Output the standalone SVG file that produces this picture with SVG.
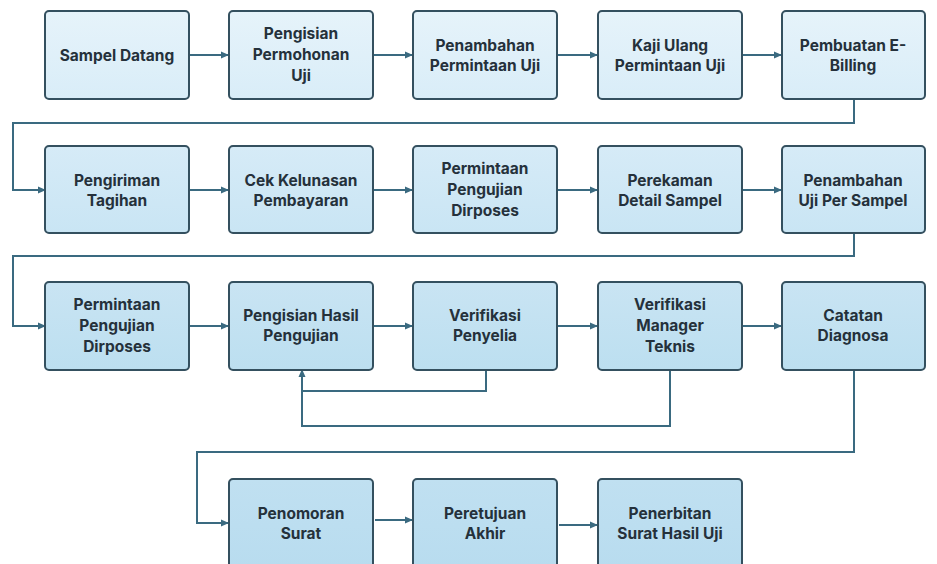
<svg xmlns="http://www.w3.org/2000/svg" width="937" height="564" viewBox="0 0 937 564">
<defs>
<linearGradient id="g1" x1="0" y1="0" x2="0" y2="1"><stop offset="0" stop-color="#e6f3fa"/><stop offset="1" stop-color="#d9edf8"/></linearGradient>
<linearGradient id="g2" x1="0" y1="0" x2="0" y2="1"><stop offset="0" stop-color="#d6ebf7"/><stop offset="1" stop-color="#c9e5f4"/></linearGradient>
<linearGradient id="g3" x1="0" y1="0" x2="0" y2="1"><stop offset="0" stop-color="#c9e4f3"/><stop offset="1" stop-color="#bcdff0"/></linearGradient>
<linearGradient id="g4" x1="0" y1="0" x2="0" y2="1"><stop offset="0" stop-color="#c0e0f1"/><stop offset="1" stop-color="#b8dcef"/></linearGradient>
<marker id="arr" markerWidth="8" markerHeight="8" refX="7" refY="4" orient="auto" markerUnits="userSpaceOnUse">
<path d="M0,0.5 L8,4 L0,7.5 Z" fill="#3a6a80"/>
</marker>
</defs>
<style>
.box{stroke:#34505f;stroke-width:2}
.r1{fill:url(#g1)}.r2{fill:url(#g2)}.r3{fill:url(#g3)}.r4{fill:url(#g4)}
text{font-family:Inter,"Liberation Sans",sans-serif;font-weight:700;font-size:15.5px;fill:#25313b;text-anchor:middle}
.c{fill:none;stroke:#3a6a80;stroke-width:2}
</style>
<rect width="937" height="564" fill="#ffffff"/>
<g id="connectors">
<path class="c" d="M189,55 H228" marker-end="url(#arr)"/>
<path class="c" d="M373,55 H412" marker-end="url(#arr)"/>
<path class="c" d="M557,55 H597" marker-end="url(#arr)"/>
<path class="c" d="M742,55 H781" marker-end="url(#arr)"/>
<path class="c" d="M854,99 V123 H13 V190 H45" marker-end="url(#arr)"/>
<path class="c" d="M189,190 H228" marker-end="url(#arr)"/>
<path class="c" d="M373,190 H412" marker-end="url(#arr)"/>
<path class="c" d="M557,190 H597" marker-end="url(#arr)"/>
<path class="c" d="M742,190 H781" marker-end="url(#arr)"/>
<path class="c" d="M854,233 V256 H13 V326 H45" marker-end="url(#arr)"/>
<path class="c" d="M189,326 H228" marker-end="url(#arr)"/>
<path class="c" d="M373,326 H412" marker-end="url(#arr)"/>
<path class="c" d="M557,326 H597" marker-end="url(#arr)"/>
<path class="c" d="M742,326 H781" marker-end="url(#arr)"/>
<path class="c" d="M486,370 V391 H302 V370" marker-end="url(#arr)"/>
<path class="c" d="M670,370 V426 H302 V391"/>
<path class="c" d="M854,370 V452 H197 V523 H228" marker-end="url(#arr)"/>
<path class="c" d="M375,520 H412" marker-end="url(#arr)"/>
<path class="c" d="M559,525 H597" marker-end="url(#arr)"/>
</g>
<g id="n1"><rect class="box r1" x="45" y="11" width="144" height="88" rx="4"/><text x="117" y="61">Sampel Datang</text></g>
<g id="n2"><rect class="box r1" x="229" y="11" width="144" height="88" rx="4"/><text x="301" y="39">Pengisian</text><text x="301" y="60">Permohonan</text><text x="301" y="81">Uji</text></g>
<g id="n3"><rect class="box r1" x="413" y="11" width="144" height="88" rx="4"/><text x="485" y="51">Penambahan</text><text x="485" y="71">Permintaan Uji</text></g>
<g id="n4"><rect class="box r1" x="598" y="11" width="144" height="88" rx="4"/><text x="670" y="51">Kaji Ulang</text><text x="670" y="71">Permintaan Uji</text></g>
<g id="n5"><rect class="box r1" x="782" y="11" width="143" height="88" rx="4"/><text x="853" y="51">Pembuatan E-</text><text x="853" y="71">Billing</text></g>
<g id="n6"><rect class="box r2" x="45" y="146" width="144" height="87" rx="4"/><text x="117" y="186">Pengiriman</text><text x="117" y="206">Tagihan</text></g>
<g id="n7"><rect class="box r2" x="229" y="146" width="144" height="87" rx="4"/><text x="301" y="186">Cek Kelunasan</text><text x="301" y="206">Pembayaran</text></g>
<g id="n8"><rect class="box r2" x="413" y="146" width="144" height="87" rx="4"/><text x="485" y="174">Permintaan</text><text x="485" y="195">Pengujian</text><text x="485" y="216">Dirposes</text></g>
<g id="n9"><rect class="box r2" x="598" y="146" width="144" height="87" rx="4"/><text x="670" y="186">Perekaman</text><text x="670" y="206">Detail Sampel</text></g>
<g id="n10"><rect class="box r2" x="782" y="146" width="143" height="87" rx="4"/><text x="853" y="186">Penambahan</text><text x="853" y="206">Uji Per Sampel</text></g>
<g id="n11"><rect class="box r3" x="45" y="282" width="144" height="88" rx="4"/><text x="117" y="310">Permintaan</text><text x="117" y="331">Pengujian</text><text x="117" y="352">Dirposes</text></g>
<g id="n12"><rect class="box r3" x="229" y="282" width="144" height="88" rx="4"/><text x="301" y="321">Pengisian Hasil</text><text x="301" y="341">Pengujian</text></g>
<g id="n13"><rect class="box r3" x="413" y="282" width="144" height="88" rx="4"/><text x="485" y="321">Verifikasi</text><text x="485" y="341">Penyelia</text></g>
<g id="n14"><rect class="box r3" x="598" y="282" width="144" height="88" rx="4"/><text x="670" y="310">Verifikasi</text><text x="670" y="331">Manager</text><text x="670" y="352">Teknis</text></g>
<g id="n15"><rect class="box r3" x="782" y="282" width="143" height="88" rx="4"/><text x="853" y="321">Catatan</text><text x="853" y="341">Diagnosa</text></g>
<g id="n16"><rect class="box r4" x="229" y="479" width="144" height="92" rx="4"/><text x="301" y="519">Penomoran</text><text x="301" y="539">Surat</text></g>
<g id="n17"><rect class="box r4" x="413" y="479" width="144" height="92" rx="4"/><text x="485" y="519">Peretujuan</text><text x="485" y="539">Akhir</text></g>
<g id="n18"><rect class="box r4" x="598" y="479" width="144" height="92" rx="4"/><text x="670" y="519">Penerbitan</text><text x="670" y="539">Surat Hasil Uji</text></g>
</svg>
